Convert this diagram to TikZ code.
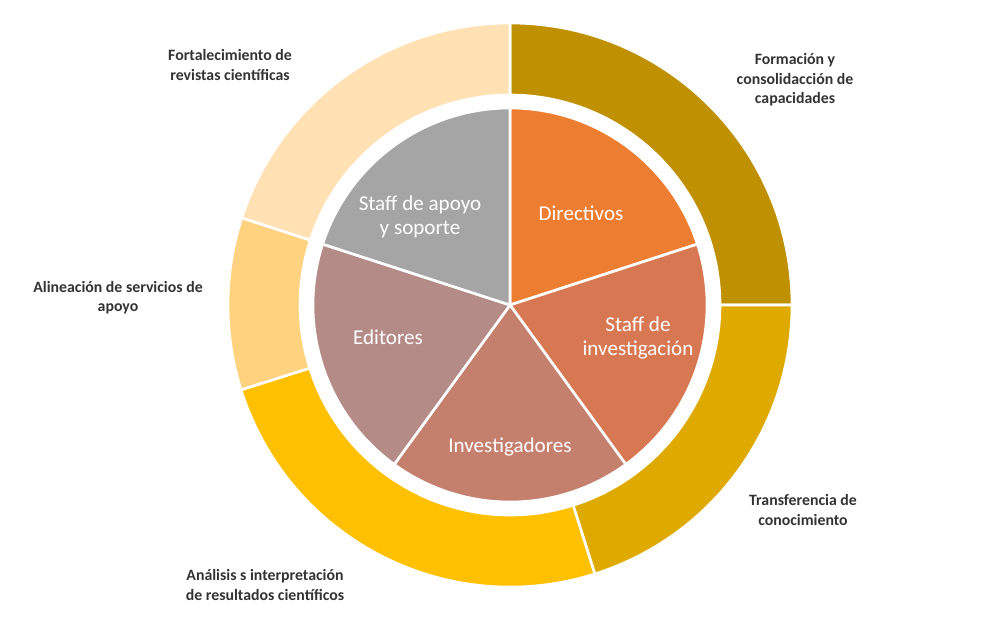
\documentclass[tikz,border=0pt]{standalone}
\usepackage{fontspec}
\setmainfont{Carlito}
\usetikzlibrary{calc}
\definecolor{ringA}{HTML}{BF9000}
\definecolor{ringB}{HTML}{DFAA00}
\definecolor{ringC}{HTML}{FFC000}
\definecolor{ringD}{HTML}{FFD280}
\definecolor{ringE}{HTML}{FFE1B4}
\definecolor{pieA}{HTML}{ED7D31}
\definecolor{pieB}{HTML}{D87852}
\definecolor{pieC}{HTML}{C47F6D}
\definecolor{pieD}{HTML}{B48B86}
\definecolor{pieE}{HTML}{A5A5A5}
\begin{document}
\begin{tikzpicture}[
  % --- styles ------------------------------------------------------------
  outerlbl/.style={font=\bfseries\small, text=black!80, align=center},
  innerlbl/.style={font=\large, text=white, align=center},
  sep/.style={draw=white, line width=1.5pt}
]
\useasboundingbox (0,0) rectangle (20,12.4);
\coordinate (c) at (10.2,6.3);

% --------------------- outer ring ---------------------------------------
\foreach \aa/\ab/\col in {0/90/ringA, -72.5/0/ringB, 197.5/287.5/ringC, 162/197.5/ringD, 90/162/ringE}{
  \fill[\col, sep] ($(c)+(\aa:5.64)$) arc[start angle=\aa, end angle=\ab, radius=5.64]
    -- ($(c)+(\ab:4.2)$) arc[start angle=\ab, end angle=\aa, radius=4.2] -- cycle;
}

% --------------------- inner pie ----------------------------------------
\foreach \aa/\col in {18/pieA, -54/pieB, -126/pieC, -198/pieD, -270/pieE}{
  \fill[\col, sep] (c) -- ($(c)+(\aa:3.94)$) arc[start angle=\aa, end angle=\aa+72, radius=3.94] -- cycle;
}

% --------------------- labels -------------------------------------------
\node[innerlbl] (dir) at (11.62,8.14) {Directivos};
\node[innerlbl] (sinv) at (12.76,5.64) {Staff de\\investigación};
\node[innerlbl] (inv) at (10.2,3.46) {Investigadores};
\node[innerlbl] (edi) at (7.76,5.66) {Editores};
\node[innerlbl] (sapo) at (8.4,8.06) {Staff de apoyo\\y soporte};

\node[outerlbl] (form) at (15.9,10.8) {Formación y\\consolidacción de\\capacidades};
\node[outerlbl] (trans) at (16.06,2.2) {Transferencia de\\conocimiento};
\node[outerlbl] (anal) at (5.3,0.7) {Análisis s interpretación\\de resultados científicos};
\node[outerlbl] (alin) at (2.36,6.44) {Alineación de servicios de\\apoyo};
\node[outerlbl] (fort) at (4.6,11.1) {Fortalecimiento de\\revistas científicas};
\end{tikzpicture}
\end{document}
